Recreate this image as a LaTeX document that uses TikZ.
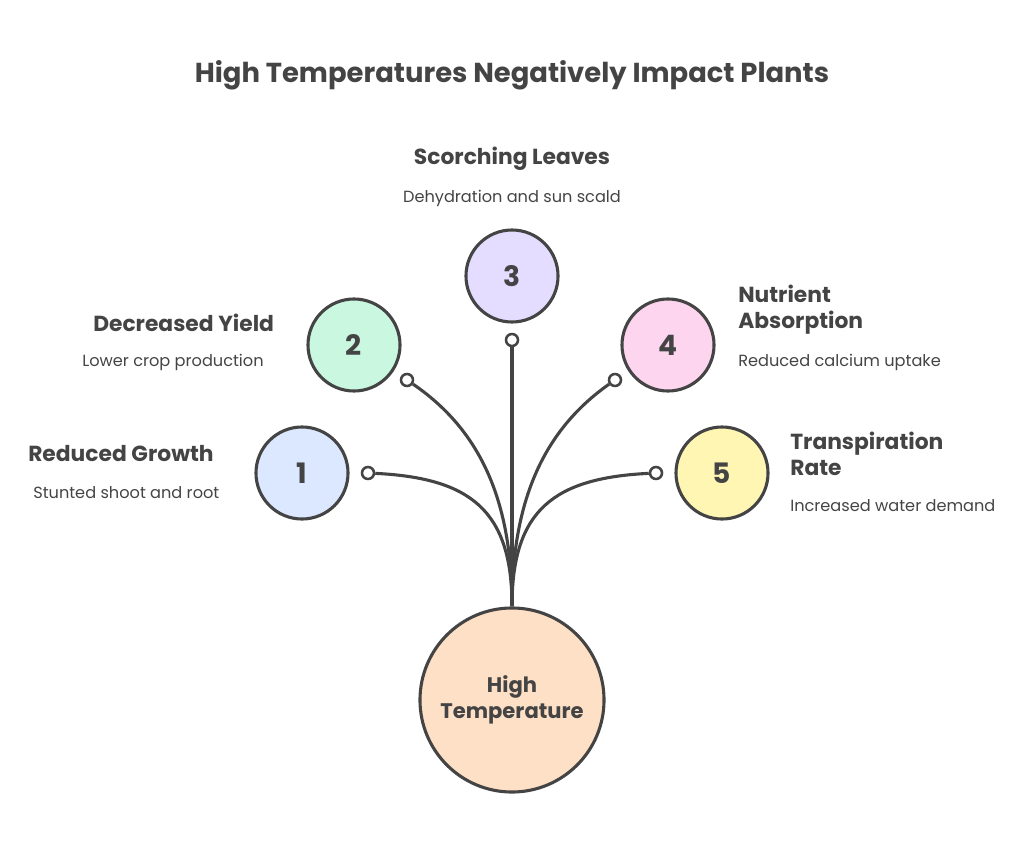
\documentclass[tikz,border=0pt]{standalone}
\usepackage{fontspec}
\setmainfont{Poppins}
\usepackage{tikz}
\usetikzlibrary{positioning}
\definecolor{ink}{HTML}{444444}
\definecolor{fillblue}{HTML}{DCE8FF}
\definecolor{fillgreen}{HTML}{C9F7E0}
\definecolor{fillpurple}{HTML}{E4DDFF}
\definecolor{fillpink}{HTML}{FDD5EE}
\definecolor{fillyellow}{HTML}{FFF6B3}
\definecolor{fillorange}{HTML}{FDE0C6}

\begin{document}
\begin{tikzpicture}[
    x=0.025cm, y=-0.025cm,
    num/.style={circle, draw=ink, line width=2.2pt, minimum size=2.3cm, inner sep=0pt, font=\fontsize{20}{22}\selectfont\bfseries, text=ink},
    dot/.style={circle, draw=ink, line width=1.8pt, fill=white, minimum size=0.3cm, inner sep=0pt},
    head/.style={font=\fontsize{15.5}{18.5}\selectfont\bfseries, text=ink, align=left, inner sep=0pt},
    desc/.style={font=\fontsize{11.5}{14}\selectfont, text=ink, inner sep=0pt},
    link/.style={draw=ink, line width=2.2pt}
]
    \useasboundingbox (0,0) rectangle (1024,866);
    \node[font=\fontsize{19.5}{22}\selectfont\bfseries, text=ink] (title) at (512,75) {High Temperatures Negatively Impact Plants};

    % centre
    \node[circle, draw=ink, line width=2.2pt, fill=fillorange, minimum size=4.6cm, align=center,
          font=\fontsize{15}{18.5}\selectfont\bfseries, text=ink] (heat) at (512,700) {High\\Temperature};
    \coordinate (root) at (512,606);

    % effects
    \node[num, fill=fillblue] (n1) at (302,473) {1};
    \node[num, fill=fillgreen] (n2) at (354,345) {2};
    \node[num, fill=fillpurple] (n3) at (512,276) {3};
    \node[num, fill=fillpink] (n4) at (668,345) {4};
    \node[num, fill=fillyellow] (n5) at (722,473) {5};

    \node[dot] (d1) at (368,473) {};
    \node[dot] (d2) at (407,380) {};
    \node[dot] (d3) at (512,340) {};
    \node[dot] (d4) at (615,380) {};
    \node[dot] (d5) at (656,473) {};

    \draw[link] (d1) .. controls (470,478) and (512,510) .. (root);
    \draw[link] (d2) .. controls (480,430) and (512,500) .. (root);
    \draw[link] (d3) -- (root);
    \draw[link] (d4) .. controls (544,430) and (512,500) .. (root);
    \draw[link] (d5) .. controls (554,478) and (512,510) .. (root);

    % labels
    \node[head, anchor=west] (h1) at (28,454) {Reduced Growth};
    \node[desc, anchor=west] (t1) at (33,493) {Stunted shoot and root};
    \node[head, anchor=west] (h2) at (93,323) {Decreased Yield};
    \node[desc, anchor=west] (t2) at (82,362) {Lower crop production};
    \node[head] (h3) at (512,159) {Scorching Leaves};
    \node[desc] (t3) at (512,198) {Dehydration and sun scald};
    \node[head, anchor=west] (h4) at (738,310) {Nutrient\\Absorption};
    \node[desc, anchor=west] (t4) at (738,362) {Reduced calcium uptake};
    \node[head, anchor=west] (h5) at (790,454) {Transpiration\\Rate};
    \node[desc, anchor=west] (t5) at (790,506) {Increased water demand};
\end{tikzpicture}
\end{document}
